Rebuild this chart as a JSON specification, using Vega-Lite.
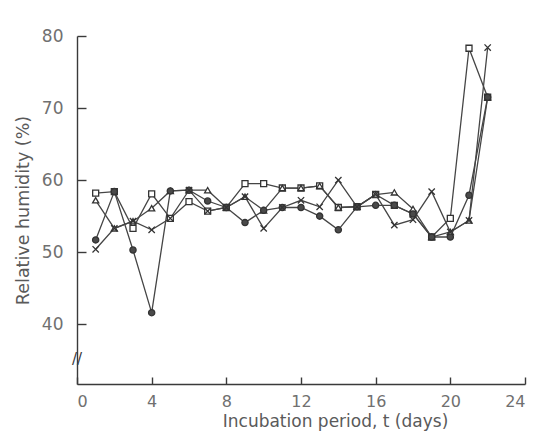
{
  "$schema": "https://vega.github.io/schema/vega-lite/v6.json",
  "width": 448,
  "height": 348,
  "autosize": "none",
  "padding": {"left": 77, "top": 36, "right": 15, "bottom": 52},
  "background": "white",
  "config": {
    "view": {"stroke": null},
    "axis": {
      "grid": false,
      "domainColor": "#3a3a3a",
      "domainWidth": 1.4,
      "tickColor": "#3a3a3a",
      "tickWidth": 1.4,
      "labelFont": "DejaVu Sans",
      "labelColor": "#707070",
      "labelFontSize": 17,
      "titleFont": "DejaVu Sans",
      "titleColor": "#5a5a5a",
      "titleFontSize": 17.5,
      "titleFontWeight": "normal"
    }
  },
  "data": {
    "values": [
      {"t": 1, "s": "square", "rh": 58.2}, {"t": 2, "s": "square", "rh": 58.4}, {"t": 3, "s": "square", "rh": 53.3}, {"t": 4, "s": "square", "rh": 58.1},
      {"t": 5, "s": "square", "rh": 54.7}, {"t": 6, "s": "square", "rh": 57.0}, {"t": 7, "s": "square", "rh": 55.7}, {"t": 8, "s": "square", "rh": 56.2},
      {"t": 9, "s": "square", "rh": 59.5}, {"t": 10, "s": "square", "rh": 59.5}, {"t": 11, "s": "square", "rh": 58.9}, {"t": 12, "s": "square", "rh": 58.9},
      {"t": 13, "s": "square", "rh": 59.2}, {"t": 14, "s": "square", "rh": 56.2}, {"t": 15, "s": "square", "rh": 56.3}, {"t": 16, "s": "square", "rh": 58.0},
      {"t": 17, "s": "square", "rh": 56.5}, {"t": 18, "s": "square", "rh": 55.3}, {"t": 19, "s": "square", "rh": 52.1}, {"t": 20, "s": "square", "rh": 54.7},
      {"t": 21, "s": "square", "rh": 78.3}, {"t": 22, "s": "square", "rh": 71.5},

      {"t": 1, "s": "triangle", "rh": 57.2}, {"t": 2, "s": "triangle", "rh": 53.3}, {"t": 3, "s": "triangle", "rh": 54.3}, {"t": 4, "s": "triangle", "rh": 56.1},
      {"t": 5, "s": "triangle", "rh": 58.5}, {"t": 6, "s": "triangle", "rh": 58.6}, {"t": 7, "s": "triangle", "rh": 58.6}, {"t": 8, "s": "triangle", "rh": 56.2},
      {"t": 9, "s": "triangle", "rh": 57.7}, {"t": 10, "s": "triangle", "rh": 55.8}, {"t": 11, "s": "triangle", "rh": 58.9}, {"t": 12, "s": "triangle", "rh": 58.9},
      {"t": 13, "s": "triangle", "rh": 59.2}, {"t": 14, "s": "triangle", "rh": 56.2}, {"t": 15, "s": "triangle", "rh": 56.3}, {"t": 16, "s": "triangle", "rh": 58.0},
      {"t": 17, "s": "triangle", "rh": 58.3}, {"t": 18, "s": "triangle", "rh": 56.0}, {"t": 19, "s": "triangle", "rh": 52.1}, {"t": 20, "s": "triangle", "rh": 52.8},
      {"t": 21, "s": "triangle", "rh": 54.4}, {"t": 22, "s": "triangle", "rh": 71.5},

      {"t": 1, "s": "circle", "rh": 51.7}, {"t": 2, "s": "circle", "rh": 58.4}, {"t": 3, "s": "circle", "rh": 50.3}, {"t": 4, "s": "circle", "rh": 41.6},
      {"t": 5, "s": "circle", "rh": 58.5}, {"t": 6, "s": "circle", "rh": 58.6}, {"t": 7, "s": "circle", "rh": 57.1}, {"t": 8, "s": "circle", "rh": 56.2},
      {"t": 9, "s": "circle", "rh": 54.1}, {"t": 10, "s": "circle", "rh": 55.8}, {"t": 11, "s": "circle", "rh": 56.2}, {"t": 12, "s": "circle", "rh": 56.2},
      {"t": 13, "s": "circle", "rh": 55.0}, {"t": 14, "s": "circle", "rh": 53.1}, {"t": 15, "s": "circle", "rh": 56.3}, {"t": 16, "s": "circle", "rh": 56.5},
      {"t": 17, "s": "circle", "rh": 56.5}, {"t": 18, "s": "circle", "rh": 55.3}, {"t": 19, "s": "circle", "rh": 52.1}, {"t": 20, "s": "circle", "rh": 52.1},
      {"t": 21, "s": "circle", "rh": 57.9}, {"t": 22, "s": "circle", "rh": 71.5},

      {"t": 1, "s": "cross", "rh": 50.4}, {"t": 2, "s": "cross", "rh": 53.3}, {"t": 3, "s": "cross", "rh": 54.3}, {"t": 4, "s": "cross", "rh": 53.1},
      {"t": 5, "s": "cross", "rh": 54.7}, {"t": 6, "s": "cross", "rh": 58.6}, {"t": 7, "s": "cross", "rh": 55.7}, {"t": 8, "s": "cross", "rh": 56.2},
      {"t": 9, "s": "cross", "rh": 57.7}, {"t": 10, "s": "cross", "rh": 53.3}, {"t": 11, "s": "cross", "rh": 56.2}, {"t": 12, "s": "cross", "rh": 57.2},
      {"t": 13, "s": "cross", "rh": 56.3}, {"t": 14, "s": "cross", "rh": 60.0}, {"t": 15, "s": "cross", "rh": 56.3}, {"t": 16, "s": "cross", "rh": 58.0},
      {"t": 17, "s": "cross", "rh": 53.75}, {"t": 18, "s": "cross", "rh": 54.5}, {"t": 19, "s": "cross", "rh": 58.4}, {"t": 20, "s": "cross", "rh": 52.8},
      {"t": 21, "s": "cross", "rh": 54.4}, {"t": 22, "s": "cross", "rh": 78.4}
    ]
  },
  "layer": [
    {
      "mark": {"type": "line", "color": "#454545", "strokeWidth": 1.3},
      "encoding": {
        "x": {"field": "t", "type": "quantitative", "scale": {"domain": [0, 24], "nice": false},
              "axis": {"values": [0, 4, 8, 12, 16, 20, 24], "tickSize": -7, "labelPadding": 16, "labelFontSize": 16, "title": "Incubation period, t (days)", "titleFontSize": 17, "titlePadding": 4, "titleX": 258, "titleAlign": "center"}},
        "y": {"field": "rh", "type": "quantitative", "scale": {"domain": [31.7, 80], "nice": false, "zero": false},
              "axis": {"values": [40, 50, 60, 70, 80], "tickSize": -9, "labelPadding": 23, "title": "Relative humidity (%)", "titlePadding": 9}},
        "detail": {"field": "s"}
      }
    },
    {
      "mark": {"type": "point", "filled": true, "stroke": "#333333", "strokeWidth": 1.3, "opacity": 1},
      "encoding": {
        "x": {"field": "t", "type": "quantitative"},
        "y": {"field": "rh", "type": "quantitative"},
        "shape": {"field": "s", "type": "nominal", "legend": null,
                  "scale": {"domain": ["square", "triangle", "circle", "cross"], "range": ["square", "triangle-up", "circle", "M-1,-1L1,1M-1,1L1,-1"]}},
        "fill": {"field": "s", "type": "nominal", "legend": null,
                 "scale": {"domain": ["square", "triangle", "circle", "cross"], "range": ["#ffffff", "#ffffff", "#4a4a4a", "#4a4a4a"]}},
        "size": {"field": "s", "type": "nominal", "legend": null,
                 "scale": {"domain": ["square", "triangle", "circle", "cross"], "range": [36, 40, 26, 45]}}
      }
    },
    {
      "data": {"values": [{"t": 0, "rh": 35.2, "mark": "//"}]},
      "mark": {"type": "text", "font": "DejaVu Sans", "fontSize": 15, "color": "#3a3a3a", "align": "center", "baseline": "middle"},
      "encoding": {
        "x": {"field": "t", "type": "quantitative"},
        "y": {"field": "rh", "type": "quantitative"},
        "text": {"field": "mark"}
      }
    }
  ]
}
